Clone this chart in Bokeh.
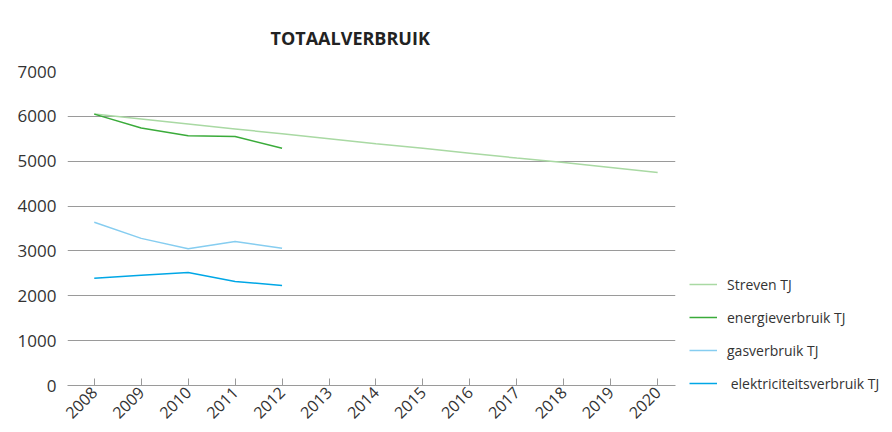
from bokeh.plotting import figure
from bokeh.models import Range1d, FixedTicker, Legend, LegendItem, Title
from bokeh.embed import file_html
from bokeh.resources import INLINE

years = list(range(2008, 2021))
streven = [6050, 5940, 5830, 5720, 5610, 5500, 5390, 5290, 5180, 5070, 4970, 4860, 4750]
energie_years = [2008, 2009, 2010, 2011, 2012]
energie = [6050, 5740, 5570, 5550, 5290]
gas = [3640, 3280, 3050, 3210, 3060]
elek = [2390, 2460, 2520, 2320, 2230]
y_ticks = [0, 1000, 2000, 3000, 4000, 5000, 6000, 7000]

FONT = "Open Sans"
TXT = "#333333"

p = figure(frame_width=608, frame_height=314, output_backend="svg", toolbar_location=None,
           x_range=Range1d(2007.43, 2020.38), y_range=Range1d(0, 7000),
           min_border_left=67, min_border_right=10, min_border_top=71, min_border_bottom=45)
p.title = Title(text="TOTAALVERBRUIK", align="left", offset=203, standoff=40, text_font=FONT,
                text_font_size="18px", text_font_style="bold", text_color="#222222",
                vertical_align="top")
p.outline_line_color = None
p.xgrid.visible = False
p.ygrid.ticker = FixedTicker(ticks=y_ticks)
p.ygrid.grid_line_color = "#9a9a9a"
p.ygrid.grid_line_width = 1

p.yaxis.ticker = FixedTicker(ticks=y_ticks)
p.yaxis.axis_line_color = None
p.yaxis.major_tick_line_color = None
p.yaxis.minor_tick_line_color = None
p.yaxis.major_label_text_font = FONT
p.yaxis.major_label_text_font_size = "17px"
p.yaxis.major_label_text_color = TXT
p.yaxis.major_label_standoff = 5

p.xaxis.ticker = FixedTicker(ticks=years)
p.xaxis.axis_line_color = "#9a9a9a"
p.xaxis.major_tick_line_color = "#9a9a9a"
p.xaxis.major_tick_in = 7
p.xaxis.major_tick_out = 0
p.xaxis.minor_tick_line_color = None
p.xaxis.major_label_orientation = 0.785
p.xaxis.major_label_text_font = FONT
p.xaxis.major_label_text_font_size = "16px"
p.xaxis.major_label_text_color = TXT
p.xaxis.major_label_standoff = 4

r1 = p.line(years, streven, line_color="#a9d9a3", line_width=1.5)
r2 = p.line(energie_years, energie, line_color="#3aab3a", line_width=1.5)
r3 = p.line(energie_years, gas, line_color="#86cdf0", line_width=1.5)
r4 = p.line(energie_years, elek, line_color="#00a7e6", line_width=1.5)

legend = Legend(items=[
    LegendItem(label="Streven TJ", renderers=[r1]),
    LegendItem(label="energieverbruik TJ", renderers=[r2]),
    LegendItem(label="gasverbruik TJ", renderers=[r3]),
    LegendItem(label=" elektriciteitsverbruik TJ", renderers=[r4]),
], location=(14, -8), orientation="vertical", spacing=13, glyph_width=28,
   glyph_height=20, label_standoff=10, label_text_font=FONT, label_text_font_size="14px",
   label_text_color=TXT, border_line_color=None, background_fill_alpha=0, padding=4,
   margin=0)
p.add_layout(legend, "right")

open("out.html", "w").write(file_html(p, INLINE))
